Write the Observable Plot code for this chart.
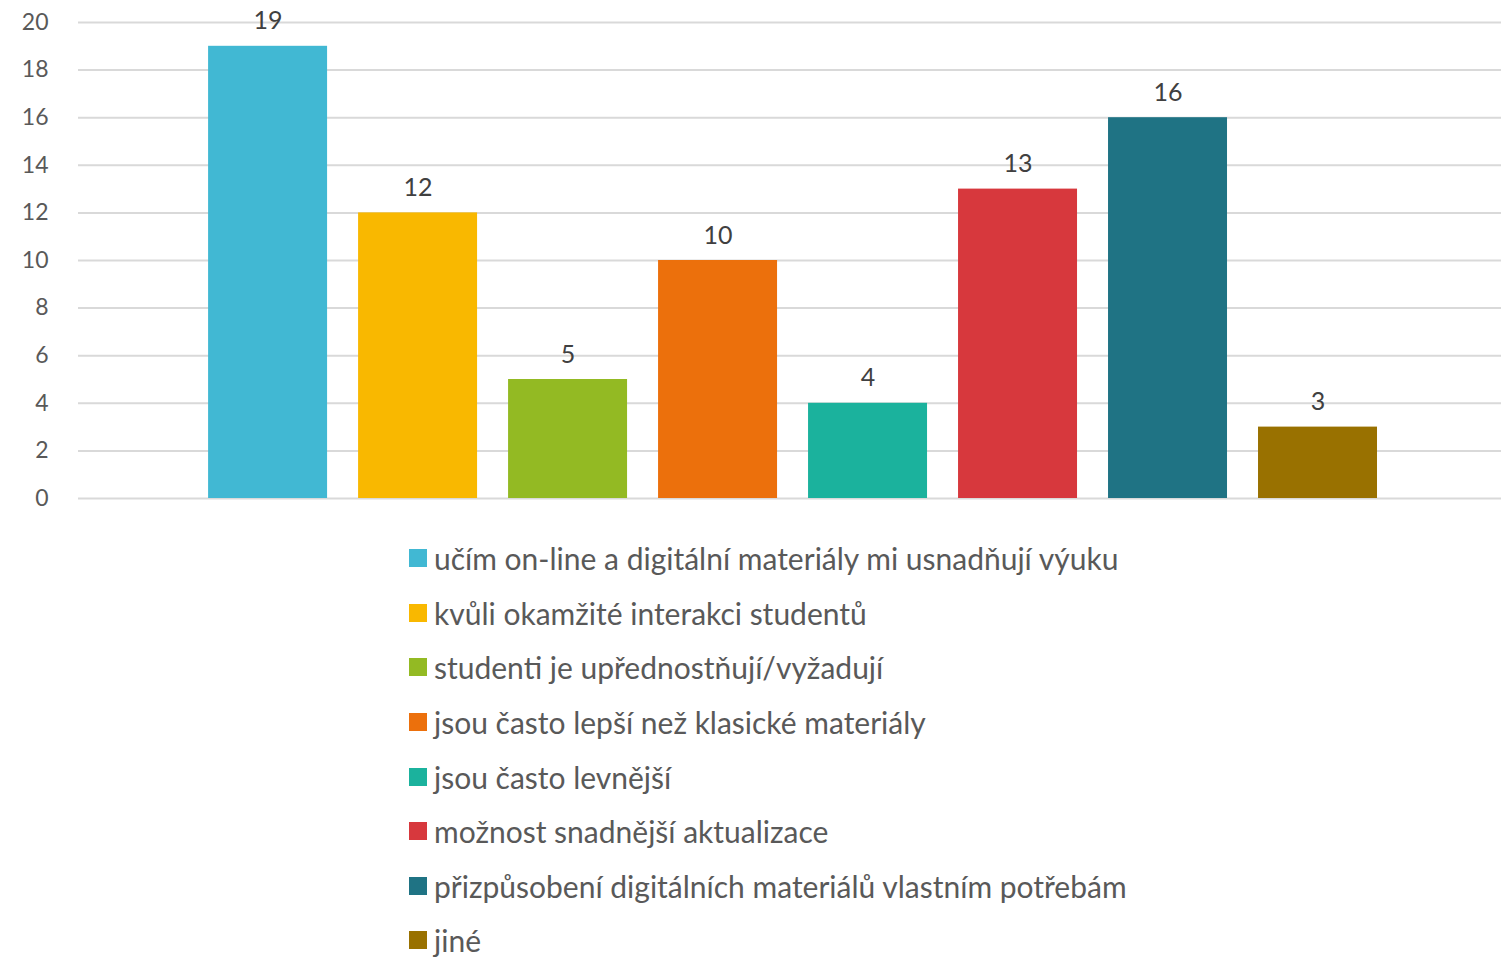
<!DOCTYPE html>
<html>
<head>
<meta charset="utf-8">
<script src="https://cdn.jsdelivr.net/npm/d3@7"></script>
<script src="https://cdn.jsdelivr.net/npm/@observablehq/plot@0.6"></script>
<style>
  body { margin: 0; background: #fff; font-family: Lato, "Open Sans", sans-serif; }
  #legend { margin: 11px 0 0 409px; }
  .row { display: flex; align-items: center; height: 54.6px; font-size: 30px; color: #595959; }
  .sw { width: 18px; height: 18px; margin-right: 7px; flex: none; }
</style>
</head>
<body>
<div id="chart"></div>
<div id="legend"></div>
<script>
const categories = [
  "učím on-line a digitální materiály mi usnadňují výuku",
  "kvůli okamžité interakci studentů",
  "studenti je upřednostňují/vyžadují",
  "jsou často lepší než klasické materiály",
  "jsou často levnější",
  "možnost snadnější aktualizace",
  "přizpůsobení digitálních materiálů vlastním potřebám",
  "jiné"
];
const values = [19, 12, 5, 10, 4, 13, 16, 3];
const colors = ["#41B8D3", "#F9B800", "#93BA23", "#EC700C", "#1BB29D", "#D7383D", "#1F7384", "#997100"];
const yTicks = [0, 2, 4, 6, 8, 10, 12, 14, 16, 18, 20];

const data = categories.map((c, i) => ({category: c, value: values[i], color: colors[i]}));

const chart = Plot.plot({
  width: 1501,
  height: 520,
  marginLeft: 78,
  marginRight: 0,
  marginTop: 22,
  marginBottom: 22,
  style: {fontFamily: "Lato, 'Open Sans', sans-serif", background: "#fff"},
  x: {domain: categories, paddingInner: 0.2067, paddingOuter: 0.847, align: 0.512, round: false, axis: null},
  y: {domain: [0, 20], ticks: yTicks},
  marks: [
    Plot.gridY(yTicks, {stroke: "#D9D9D9", strokeOpacity: 1, strokeWidth: 2}),
    Plot.barY(data, {x: "category", y: "value", fill: "color"}),
    Plot.axisY(yTicks, {tickSize: 0, tickPadding: 30, fontSize: 23, fill: "#595959", color: "#595959", label: null}),
    Plot.text(data, {x: "category", y: "value", text: d => String(d.value), dy: -25, fontSize: 25, fill: "#404040"})
  ]
});
document.getElementById("chart").appendChild(chart);

const legend = document.getElementById("legend");
categories.forEach((c, i) => {
  const row = document.createElement("div");
  row.className = "row";
  const sw = document.createElement("span");
  sw.className = "sw";
  sw.style.background = colors[i];
  const t = document.createElement("span");
  t.textContent = c;
  row.appendChild(sw);
  row.appendChild(t);
  legend.appendChild(row);
});
</script>
</body>
</html>
